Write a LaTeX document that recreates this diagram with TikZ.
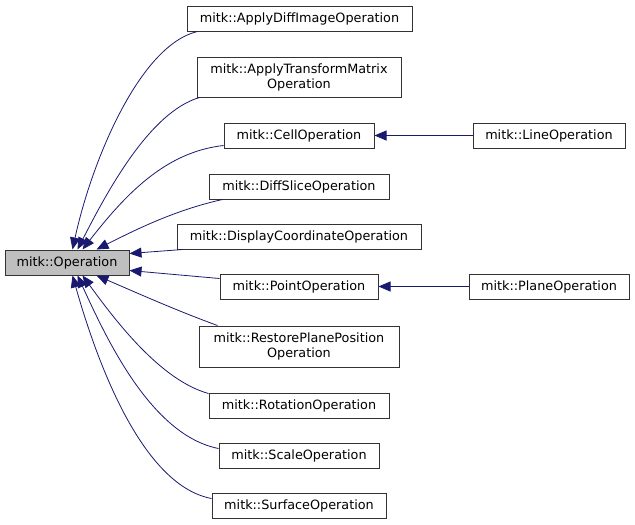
\documentclass[tikz,border=0pt]{standalone}
\usepackage{fontspec}
\setmainfont{DejaVu Sans}
\usetikzlibrary{arrows.meta}
\definecolor{edgecol}{HTML}{191970}
\definecolor{opfill}{HTML}{BFBFBF}
\tikzset{
  box/.style={draw=black!80, line width=1pt, fill=white, inner sep=0pt, align=center,
    font=\fontsize{12.8}{15}\selectfont, minimum height=25pt},
  edge/.style={draw=edgecol, line width=0.8pt,
    -{Triangle[length=12pt,width=10pt,fill=edgecol]}},
}
\begin{document}
\begin{tikzpicture}[x=1pt,y=-1pt]
\useasboundingbox (0,0) rectangle (635,525);
\node[box, fill=opfill, minimum width=124pt] (op) at (67,262.5) {mitk::Operation};
\node[box, minimum width=225pt] (apd) at (299.5,18.5) {mitk::ApplyDiffImageOperation};
\node[box, minimum width=204pt, minimum height=40pt] (atm) at (299,77) {mitk::ApplyTransformMatrix\\Operation};
\node[box, minimum width=150pt] (cell) at (299,135.5) {mitk::CellOperation};
\node[box, minimum width=180pt] (diff) at (299,186.5) {mitk::DiffSliceOperation};
\node[box, minimum width=244pt] (disp) at (299,236.5) {mitk::DisplayCoordinateOperation};
\node[box, minimum width=158pt] (point) at (299,286.5) {mitk::PointOperation};
\node[box, minimum width=200pt, minimum height=41pt] (rest) at (299,346.5) {mitk::RestorePlanePosition\\Operation};
\node[box, minimum width=180pt] (rot) at (299,405.5) {mitk::RotationOperation};
\node[box, minimum width=160pt] (scale) at (299,455.5) {mitk::ScaleOperation};
\node[box, minimum width=174pt] (surf) at (299,505.5) {mitk::SurfaceOperation};
\node[box, minimum width=152pt] (line) at (549,135.5) {mitk::LineOperation};
\node[box, minimum width=160pt] (plane) at (549,286.5) {mitk::PlaneOperation};

\draw[edge] ([xshift=11pt]apd.south west) .. controls (140,45) and (92,160) .. ([xshift=68pt]op.north west);
\draw[edge] ([xshift=3pt]atm.south west) .. controls (150,112) and (108,190) .. ([xshift=73pt]op.north west);
\draw[edge] ([yshift=3pt]cell.south west) .. controls (165,152) and (125,195) .. ([xshift=78pt]op.north west);
\draw[edge] ([xshift=14pt]diff.south west) .. controls (175,210) and (135,230) .. ([xshift=92pt]op.north west);
\draw[edge] ([xshift=6pt]disp.south west) -- ([yshift=-4pt]op.north east);
\draw[edge] ([yshift=-5pt]point.north west) -- ([yshift=5pt]op.south east);
\draw[edge] ([xshift=19pt]rest.north west) .. controls (175,310) and (135,292) .. ([xshift=92pt]op.south west);
\draw[edge] ([yshift=-1pt]rot.north west) .. controls (160,380) and (115,320) .. ([xshift=78pt]op.south west);
\draw[edge] ([yshift=-6pt]scale.north west) .. controls (150,435) and (105,335) .. ([xshift=73pt]op.south west);
\draw[edge] ([yshift=-6pt]surf.north west) .. controls (140,485) and (95,355) .. ([xshift=68pt]op.south west);
\draw[edge] (line.west) -- (cell.east);
\draw[edge] (plane.west) -- (point.east);
\end{tikzpicture}
\end{document}
